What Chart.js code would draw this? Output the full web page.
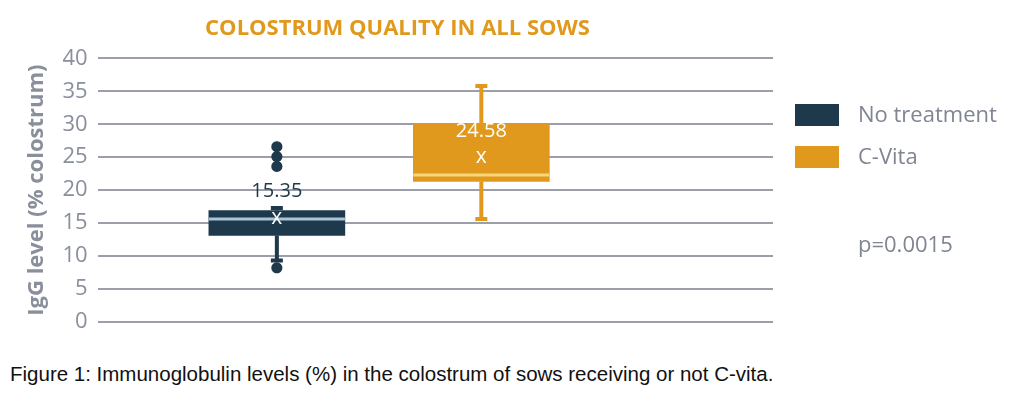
<!DOCTYPE html>
<html>
<head>
<meta charset="utf-8">
<script src="https://cdn.jsdelivr.net/npm/chart.js@4.4.1/dist/chart.umd.min.js"></script>
<style>
  body { margin: 0; background: #fff; width: 1024px; height: 405px; overflow: hidden; font-family: "Open Sans", sans-serif; }
  #wrap { position: absolute; left: 0; top: 0; width: 1024px; height: 345px; }
  .legend { position: absolute; left: 795px; font-size: 22px; color: #7f8592; }
  .sw { position: absolute; left: 0; width: 44px; height: 22px; }
  .lt { position: absolute; left: 63px; top: -6px; white-space: nowrap; }
  #caption { position: absolute; left: 10px; top: 362px; font-family: "Liberation Sans", Arial, sans-serif; font-size: 20.5px; color: #111; white-space: nowrap; }
</style>
</head>
<body>
<div id="wrap"><canvas id="chart"></canvas></div>
<div class="legend" style="top:104px"><div class="sw" style="background:#1e394b"></div><div class="lt">No treatment</div></div>
<div class="legend" style="top:146px"><div class="sw" style="background:#e0991d"></div><div class="lt">C-Vita</div></div>
<div class="legend" style="top:228px; left:858px">p=0.0015</div>
<div id="caption">Figure 1: Immunoglobulin levels (%) in the colostrum of sows receiving or not C-vita.</div>
<script>
const groups = ["No treatment", "C-Vita"];
const whiskerLow = [9.3, 15.6];
const q1 = [13.1, 21.3];
const median = [15.6, 22.3];
const q3 = [16.9, 30.0];
const whiskerHigh = [17.3, 35.8];
const means = [15.35, 24.58];
const outliers = [[8.2, 23.6, 25.1, 26.6], []];
const yTicks = [0, 5, 10, 15, 20, 25, 30, 35, 40];

const boxColors = ["#1e394b", "#e0991d"];
const medianColors = ["#a9c6d8", "#f7d77a"];
const xPos = [0.242, 0.575];

const boxPlugin = {
  id: "boxExtras",
  afterDatasetsDraw(chart) {
    const { ctx, scales: { x, y } } = chart;
    const half = 68;
    groups.forEach((g, i) => {
      const cx = x.getPixelForValue(xPos[i]);
      ctx.save();
      ctx.strokeStyle = boxColors[i];
      ctx.lineWidth = 4;
      ctx.beginPath();
      ctx.moveTo(cx, y.getPixelForValue(whiskerLow[i]));
      ctx.lineTo(cx, y.getPixelForValue(q1[i]));
      ctx.moveTo(cx, y.getPixelForValue(q3[i]));
      ctx.lineTo(cx, y.getPixelForValue(whiskerHigh[i]));
      [whiskerLow[i], whiskerHigh[i]].forEach(v => {
        const py = y.getPixelForValue(v);
        ctx.moveTo(cx - 6, py);
        ctx.lineTo(cx + 6, py);
      });
      ctx.stroke();
      ctx.strokeStyle = medianColors[i];
      ctx.lineWidth = 3;
      ctx.beginPath();
      const my = y.getPixelForValue(median[i]);
      ctx.moveTo(cx - half, my);
      ctx.lineTo(cx + half, my);
      ctx.stroke();
      ctx.fillStyle = "#fff";
      ctx.font = "21px 'Open Sans'";
      ctx.textAlign = "center";
      ctx.textBaseline = "middle";
      const meanY = y.getPixelForValue(means[i]);
      ctx.fillText("x", cx, meanY - 3);
      ctx.fillStyle = i === 0 ? "#1e394b" : "#fff";
      ctx.font = "20px 'Open Sans'";
      ctx.fillText(means[i].toFixed(2), cx, meanY - 29);
      ctx.restore();
    });
  }
};

new Chart(document.getElementById("chart"), {
  type: "bar",
  data: {
    datasets: [
      {
        data: groups.map((g, i) => ({ x: xPos[i], y: [q1[i], q3[i]] })),
        backgroundColor: boxColors,
        borderWidth: 0,
        barThickness: 136,
        order: 2,
      },
      {
        type: "scatter",
        data: outliers.flatMap((list, i) => list.map(v => ({ x: xPos[i], y: v }))),
        backgroundColor: "#1e394b",
        pointRadius: 5.5,
        order: 1,
      },
    ],
  },
  options: {
    responsive: true,
    maintainAspectRatio: false,
    animation: false,
    layout: { padding: { left: 22, right: 251, top: 0, bottom: 10 } },
    scales: {
      x: { type: "linear", min: 0, max: 1, display: false },
      y: {
        min: 0,
        max: 40,
        afterBuildTicks: (axis) => { axis.ticks = yTicks.map(v => ({ value: v })); },
        border: { display: false },
        grid: { color: "#9c9ea9", lineWidth: 2, drawTicks: false },
        ticks: { color: "#8a8f9c", font: { size: 22, family: "Open Sans" }, padding: 10 },
        title: { display: true, text: "IgG level (% colostrum)", color: "#8a8f9c", font: { size: 22, weight: "bold", family: "Open Sans" }, padding: 2 },
      },
    },
    plugins: {
      legend: { display: false },
      tooltip: { enabled: false },
      title: {
        display: true,
        text: "COLOSTRUM QUALITY IN ALL SOWS",
        color: "#e0991d",
        font: { size: 22, weight: "bold", family: "Open Sans" },
        padding: { top: 16, bottom: 16 },
      },
    },
  },
  plugins: [boxPlugin],
});
</script>
</body>
</html>
